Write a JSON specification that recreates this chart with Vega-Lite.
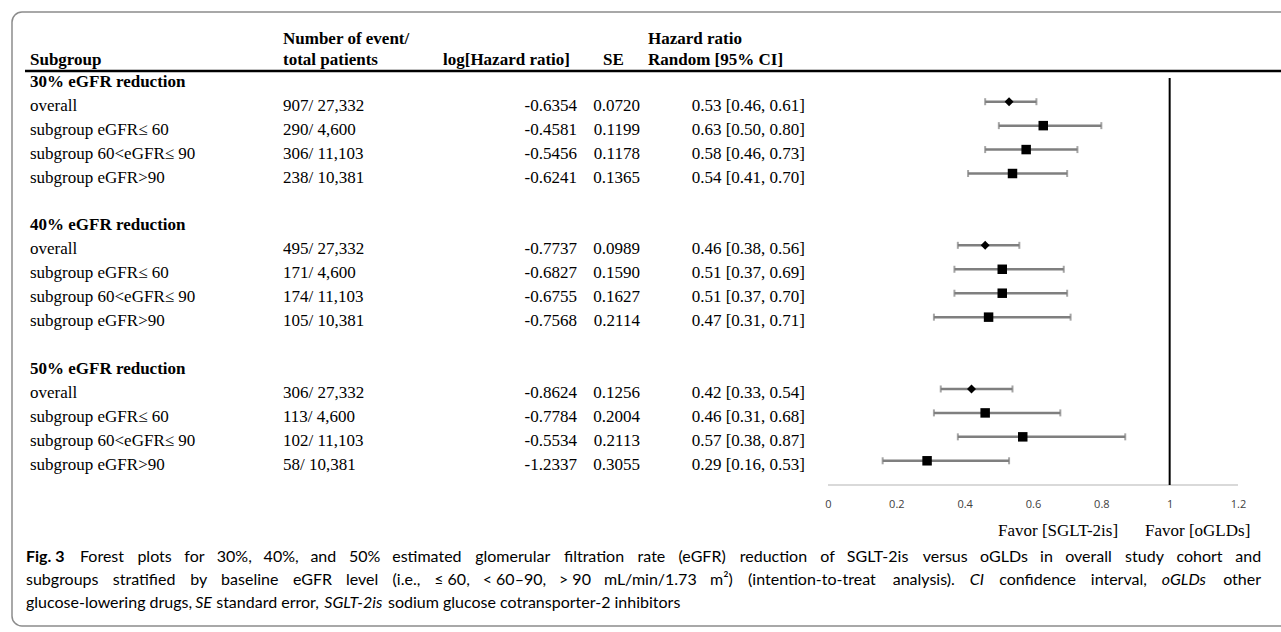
{
  "$schema": "https://vega.github.io/schema/vega-lite/v6.json",
  "autosize": {"type": "none"},
  "width": 1281,
  "height": 632,
  "padding": 0,
  "background": "white",
  "config": {
    "view": {"stroke": null},
    "locale": {"number": {"decimal": ".", "thousands": ",", "grouping": [3], "currency": ["$", ""], "minus": "-"}},
    "text": {"font": "Lato", "fontSize": 16, "color": "black", "baseline": "middle", "align": "left"}
  },
  "datasets": {
    "rows": [
      {"n": 1, "kind": "group", "label": "30% eGFR reduction"},
      {"n": 2, "kind": "overall", "label": "overall", "events": "907/ 27,332", "loghr": -0.6354, "se": 0.0720, "hr": 0.53, "lo": 0.46, "hi": 0.61, "hrci": "0.53 [0.46, 0.61]"},
      {"n": 3, "kind": "subgroup", "label": "subgroup eGFR≤ 60", "events": "290/ 4,600", "loghr": -0.4581, "se": 0.1199, "hr": 0.63, "lo": 0.50, "hi": 0.80, "hrci": "0.63 [0.50, 0.80]"},
      {"n": 4, "kind": "subgroup", "label": "subgroup 60<eGFR≤ 90", "events": "306/ 11,103", "loghr": -0.5456, "se": 0.1178, "hr": 0.58, "lo": 0.46, "hi": 0.73, "hrci": "0.58 [0.46, 0.73]"},
      {"n": 5, "kind": "subgroup", "label": "subgroup eGFR>90", "events": "238/ 10,381", "loghr": -0.6241, "se": 0.1365, "hr": 0.54, "lo": 0.41, "hi": 0.70, "hrci": "0.54 [0.41, 0.70]"},
      {"n": 7, "kind": "group", "label": "40% eGFR reduction"},
      {"n": 8, "kind": "overall", "label": "overall", "events": "495/ 27,332", "loghr": -0.7737, "se": 0.0989, "hr": 0.46, "lo": 0.38, "hi": 0.56, "hrci": "0.46 [0.38, 0.56]"},
      {"n": 9, "kind": "subgroup", "label": "subgroup eGFR≤ 60", "events": "171/ 4,600", "loghr": -0.6827, "se": 0.1590, "hr": 0.51, "lo": 0.37, "hi": 0.69, "hrci": "0.51 [0.37, 0.69]"},
      {"n": 10, "kind": "subgroup", "label": "subgroup 60<eGFR≤ 90", "events": "174/ 11,103", "loghr": -0.6755, "se": 0.1627, "hr": 0.51, "lo": 0.37, "hi": 0.70, "hrci": "0.51 [0.37, 0.70]"},
      {"n": 11, "kind": "subgroup", "label": "subgroup eGFR>90", "events": "105/ 10,381", "loghr": -0.7568, "se": 0.2114, "hr": 0.47, "lo": 0.31, "hi": 0.71, "hrci": "0.47 [0.31, 0.71]"},
      {"n": 13, "kind": "group", "label": "50% eGFR reduction"},
      {"n": 14, "kind": "overall", "label": "overall", "events": "306/ 27,332", "loghr": -0.8624, "se": 0.1256, "hr": 0.42, "lo": 0.33, "hi": 0.54, "hrci": "0.42 [0.33, 0.54]"},
      {"n": 15, "kind": "subgroup", "label": "subgroup eGFR≤ 60", "events": "113/ 4,600", "loghr": -0.7784, "se": 0.2004, "hr": 0.46, "lo": 0.31, "hi": 0.68, "hrci": "0.46 [0.31, 0.68]"},
      {"n": 16, "kind": "subgroup", "label": "subgroup 60<eGFR≤ 90", "events": "102/ 11,103", "loghr": -0.5534, "se": 0.2113, "hr": 0.57, "lo": 0.38, "hi": 0.87, "hrci": "0.57 [0.38, 0.87]"},
      {"n": 17, "kind": "subgroup", "label": "subgroup eGFR>90", "events": "58/ 10,381", "loghr": -1.2337, "se": 0.3055, "hr": 0.29, "lo": 0.16, "hi": 0.53, "hrci": "0.29 [0.16, 0.53]"}
    ]
  },
  "data": {"name": "rows"},
  "layer": [
    {
      "data": {"values": [{}]},
      "mark": {"type": "rect", "fill": "transparent", "stroke": "#8c8c8c", "strokeWidth": 1.5, "cornerRadius": 10},
      "encoding": {
        "x": {
          "datum": -2.38829, "type": "quantitative",
          "scale": {"domain": [-2.42341, 1.32586], "nice": false, "zero": false},
          "axis": {
            "values": [0, 0.2, 0.4, 0.6, 0.8, 1, 1.2],
            "format": "~g",
            "domain": false,
            "ticks": false,
            "grid": false,
            "title": null,
            "titleOpacity": 0,
            "offset": -147,
            "labelPadding": 13,
            "labelFont": "Open Sans",
            "labelFontSize": 11,
            "labelColor": "#404040",
            "labelFlush": false,
            "labelOverlap": false
          }
        },
        "x2": {"datum": 1.36683},
        "y": {"datum": -1.7469, "type": "quantitative", "scale": {"domain": [-2.2482, 24.1522], "nice": false, "zero": false, "reverse": true}, "axis": null},
        "y2": {"datum": 23.9}
      }
    },
    {
      "data": {"values": [{}]},
      "mark": {"type": "rule", "color": "black", "strokeWidth": 2.5},
      "encoding": {"x": {"datum": -2.35024, "type": "quantitative"}, "x2": {"datum": 1.33}, "y": {"datum": 0.7177, "type": "quantitative", "axis": null}}
    },
    {
      "data": {"values": [{}]},
      "mark": {"type": "rule", "color": "#d9d9d9", "strokeWidth": 2},
      "encoding": {"x": {"datum": 0, "type": "quantitative"}, "x2": {"datum": 1.2}, "y": {"datum": 18.0112, "type": "quantitative", "axis": null}}
    },
    {
      "data": {"values": [{}]},
      "mark": {"type": "rule", "color": "black", "strokeWidth": 2},
      "encoding": {"x": {"datum": 1, "type": "quantitative"}, "y": {"datum": 1.0101, "type": "quantitative", "axis": null}, "y2": {"datum": 18.0112}}
    },
    {
      "data": {"values": [{}]},
      "mark": {"type": "text", "text": "Number of event/", "font": "Liberation Serif", "fontSize": 17, "fontWeight": "bold"},
      "encoding": {"x": {"datum": -1.59512, "type": "quantitative"}, "y": {"datum": -0.6191, "type": "quantitative", "axis": null}}
    },
    {
      "data": {"values": [{}]},
      "mark": {"type": "text", "text": "Hazard ratio", "font": "Liberation Serif", "fontSize": 17, "fontWeight": "bold"},
      "encoding": {"x": {"datum": -0.52682, "type": "quantitative"}, "y": {"datum": -0.6191, "type": "quantitative", "axis": null}}
    },
    {
      "data": {"values": [{}]},
      "mark": {"type": "text", "text": "Subgroup", "font": "Liberation Serif", "fontSize": 17, "fontWeight": "bold"},
      "encoding": {"x": {"datum": -2.33561, "type": "quantitative"}, "y": {"datum": 0.2582, "type": "quantitative", "axis": null}}
    },
    {
      "data": {"values": [{}]},
      "mark": {"type": "text", "text": "total patients", "font": "Liberation Serif", "fontSize": 17, "fontWeight": "bold"},
      "encoding": {"x": {"datum": -1.59512, "type": "quantitative"}, "y": {"datum": 0.2582, "type": "quantitative", "axis": null}}
    },
    {
      "data": {"values": [{}]},
      "mark": {"type": "text", "text": "log[Hazard ratio]", "font": "Liberation Serif", "fontSize": 17, "fontWeight": "bold"},
      "encoding": {"x": {"datum": -1.12682, "type": "quantitative"}, "y": {"datum": 0.2582, "type": "quantitative", "axis": null}}
    },
    {
      "data": {"values": [{}]},
      "mark": {"type": "text", "text": "SE", "font": "Liberation Serif", "fontSize": 17, "fontWeight": "bold"},
      "encoding": {"x": {"datum": -0.65853, "type": "quantitative"}, "y": {"datum": 0.2582, "type": "quantitative", "axis": null}}
    },
    {
      "data": {"values": [{}]},
      "mark": {"type": "text", "text": "Random [95% CI]", "font": "Liberation Serif", "fontSize": 17, "fontWeight": "bold"},
      "encoding": {"x": {"datum": -0.52682, "type": "quantitative"}, "y": {"datum": 0.2582, "type": "quantitative", "axis": null}}
    },
    {
      "transform": [{"filter": "datum.kind === 'group'"}],
      "mark": {"type": "text", "font": "Liberation Serif", "fontSize": 17, "fontWeight": "bold", "dy": 4},
      "encoding": {"x": {"datum": -2.33561, "type": "quantitative"}, "y": {"field": "n", "type": "quantitative", "axis": null}, "text": {"field": "label"}}
    },
    {
      "transform": [{"filter": "datum.kind !== 'group'"}],
      "mark": {"type": "text", "font": "Liberation Serif", "fontSize": 17, "dy": 4},
      "encoding": {"x": {"datum": -2.33561, "type": "quantitative"}, "y": {"field": "n", "type": "quantitative", "axis": null}, "text": {"field": "label"}}
    },
    {
      "transform": [{"filter": "datum.kind !== 'group'"}],
      "mark": {"type": "text", "font": "Liberation Serif", "fontSize": 17, "dy": 4},
      "encoding": {"x": {"datum": -1.59512, "type": "quantitative"}, "y": {"field": "n", "type": "quantitative", "axis": null}, "text": {"field": "events"}}
    },
    {
      "transform": [{"filter": "datum.kind !== 'group'"}],
      "mark": {"type": "text", "font": "Liberation Serif", "fontSize": 17, "align": "right", "dy": 4},
      "encoding": {"x": {"datum": -0.73463, "type": "quantitative"}, "y": {"field": "n", "type": "quantitative", "axis": null}, "text": {"field": "loghr", "type": "quantitative", "format": ".4f"}}
    },
    {
      "transform": [{"filter": "datum.kind !== 'group'"}],
      "mark": {"type": "text", "font": "Liberation Serif", "fontSize": 17, "align": "right", "dy": 4},
      "encoding": {"x": {"datum": -0.55024, "type": "quantitative"}, "y": {"field": "n", "type": "quantitative", "axis": null}, "text": {"field": "se", "type": "quantitative", "format": ".4f"}}
    },
    {
      "transform": [{"filter": "datum.kind !== 'group'"}],
      "mark": {"type": "text", "font": "Liberation Serif", "fontSize": 17, "align": "right", "dy": 4},
      "encoding": {"x": {"datum": -0.06731, "type": "quantitative"}, "y": {"field": "n", "type": "quantitative", "axis": null}, "text": {"field": "hrci"}}
    },
    {
      "transform": [{"filter": "datum.kind !== 'group'"}],
      "mark": {"type": "rule", "color": "#7f7f7f", "strokeWidth": 2.5},
      "encoding": {"x": {"field": "lo", "type": "quantitative"}, "x2": {"field": "hi"}, "y": {"field": "n", "type": "quantitative", "axis": null}}
    },
    {
      "transform": [{"filter": "datum.kind !== 'group'"}],
      "mark": {"type": "tick", "orient": "vertical", "size": 7, "thickness": 2, "color": "#7f7f7f"},
      "encoding": {"x": {"field": "lo", "type": "quantitative"}, "y": {"field": "n", "type": "quantitative", "axis": null}}
    },
    {
      "transform": [{"filter": "datum.kind !== 'group'"}],
      "mark": {"type": "tick", "orient": "vertical", "size": 7, "thickness": 2, "color": "#7f7f7f"},
      "encoding": {"x": {"field": "hi", "type": "quantitative"}, "y": {"field": "n", "type": "quantitative", "axis": null}}
    },
    {
      "transform": [{"filter": "datum.kind !== 'group'"}],
      "mark": {"type": "point", "filled": true, "color": "black", "opacity": 1},
      "encoding": {
        "x": {"field": "hr", "type": "quantitative"},
        "y": {"field": "n", "type": "quantitative", "axis": null},
        "shape": {"field": "kind", "type": "nominal", "scale": {"domain": ["overall", "subgroup"], "range": ["diamond", "square"]}, "legend": null},
        "size": {"field": "kind", "type": "ordinal", "scale": {"domain": ["overall", "subgroup"], "range": [80, 90]}, "legend": null}
      }
    },
    {
      "data": {"values": [{}]},
      "mark": {"type": "text", "text": "Favor [SGLT-2is]", "font": "Liberation Serif", "fontSize": 17},
      "encoding": {"x": {"datum": 0.49757, "type": "quantitative"}, "y": {"datum": 19.9328, "type": "quantitative", "axis": null}}
    },
    {
      "data": {"values": [{}]},
      "mark": {"type": "text", "text": "Favor [oGLDs]", "font": "Liberation Serif", "fontSize": 17},
      "encoding": {"x": {"datum": 0.92781, "type": "quantitative"}, "y": {"datum": 19.9328, "type": "quantitative", "axis": null}}
    },
    {"data": {"values": [{}]}, "mark": {"type": "text", "text": "Fig. 3", "fontWeight": "bold"}, "encoding": {"x": {"datum": -2.34731, "type": "quantitative"}, "y": {"datum": 21.019, "type": "quantitative", "axis": null}}},
    {"data": {"values": [{}]}, "mark": {"type": "text", "text": "Forest"}, "encoding": {"x": {"datum": -2.18926, "type": "quantitative"}, "y": {"datum": 21.019, "type": "quantitative", "axis": null}}},
    {"data": {"values": [{}]}, "mark": {"type": "text", "text": "plots"}, "encoding": {"x": {"datum": -2.02127, "type": "quantitative"}, "y": {"datum": 21.019, "type": "quantitative", "axis": null}}},
    {"data": {"values": [{}]}, "mark": {"type": "text", "text": "for"}, "encoding": {"x": {"datum": -1.88400, "type": "quantitative"}, "y": {"datum": 21.019, "type": "quantitative", "axis": null}}},
    {"data": {"values": [{}]}, "mark": {"type": "text", "text": "30%,"}, "encoding": {"x": {"datum": -1.78888, "type": "quantitative"}, "y": {"datum": 21.019, "type": "quantitative", "axis": null}}},
    {"data": {"values": [{}]}, "mark": {"type": "text", "text": "40%,"}, "encoding": {"x": {"datum": -1.65191, "type": "quantitative"}, "y": {"datum": 21.019, "type": "quantitative", "axis": null}}},
    {"data": {"values": [{}]}, "mark": {"type": "text", "text": "and"}, "encoding": {"x": {"datum": -1.51493, "type": "quantitative"}, "y": {"datum": 21.019, "type": "quantitative", "axis": null}}},
    {"data": {"values": [{}]}, "mark": {"type": "text", "text": "50%"}, "encoding": {"x": {"datum": -1.40196, "type": "quantitative"}, "y": {"datum": 21.019, "type": "quantitative", "axis": null}}},
    {"data": {"values": [{}]}, "mark": {"type": "text", "text": "estimated"}, "encoding": {"x": {"datum": -1.27552, "type": "quantitative"}, "y": {"datum": 21.019, "type": "quantitative", "axis": null}}},
    {"data": {"values": [{}]}, "mark": {"type": "text", "text": "glomerular"}, "encoding": {"x": {"datum": -1.03259, "type": "quantitative"}, "y": {"datum": 21.019, "type": "quantitative", "axis": null}}},
    {"data": {"values": [{}]}, "mark": {"type": "text", "text": "filtration"}, "encoding": {"x": {"datum": -0.77269, "type": "quantitative"}, "y": {"datum": 21.019, "type": "quantitative", "axis": null}}},
    {"data": {"values": [{}]}, "mark": {"type": "text", "text": "rate"}, "encoding": {"x": {"datum": -0.55728, "type": "quantitative"}, "y": {"datum": 21.019, "type": "quantitative", "axis": null}}},
    {"data": {"values": [{}]}, "mark": {"type": "text", "text": "(eGFR)"}, "encoding": {"x": {"datum": -0.43757, "type": "quantitative"}, "y": {"datum": 21.019, "type": "quantitative", "axis": null}}},
    {"data": {"values": [{}]}, "mark": {"type": "text", "text": "reduction"}, "encoding": {"x": {"datum": -0.25816, "type": "quantitative"}, "y": {"datum": 21.019, "type": "quantitative", "axis": null}}},
    {"data": {"values": [{}]}, "mark": {"type": "text", "text": "of"}, "encoding": {"x": {"datum": -0.02255, "type": "quantitative"}, "y": {"datum": 21.019, "type": "quantitative", "axis": null}}},
    {"data": {"values": [{}]}, "mark": {"type": "text", "text": "SGLT-2is"}, "encoding": {"x": {"datum": 0.05501, "type": "quantitative"}, "y": {"datum": 21.019, "type": "quantitative", "axis": null}}},
    {"data": {"values": [{}]}, "mark": {"type": "text", "text": "versus"}, "encoding": {"x": {"datum": 0.27715, "type": "quantitative"}, "y": {"datum": 21.019, "type": "quantitative", "axis": null}}},
    {"data": {"values": [{}]}, "mark": {"type": "text", "text": "oGLDs"}, "encoding": {"x": {"datum": 0.44515, "type": "quantitative"}, "y": {"datum": 21.019, "type": "quantitative", "axis": null}}},
    {"data": {"values": [{}]}, "mark": {"type": "text", "text": "in"}, "encoding": {"x": {"datum": 0.62076, "type": "quantitative"}, "y": {"datum": 21.019, "type": "quantitative", "axis": null}}},
    {"data": {"values": [{}]}, "mark": {"type": "text", "text": "overall"}, "encoding": {"x": {"datum": 0.69422, "type": "quantitative"}, "y": {"datum": 21.019, "type": "quantitative", "axis": null}}},
    {"data": {"values": [{}]}, "mark": {"type": "text", "text": "study"}, "encoding": {"x": {"datum": 0.86954, "type": "quantitative"}, "y": {"datum": 21.019, "type": "quantitative", "axis": null}}},
    {"data": {"values": [{}]}, "mark": {"type": "text", "text": "cohort"}, "encoding": {"x": {"datum": 1.01968, "type": "quantitative"}, "y": {"datum": 21.019, "type": "quantitative", "axis": null}}},
    {"data": {"values": [{}]}, "mark": {"type": "text", "text": "and"}, "encoding": {"x": {"datum": 1.19207, "type": "quantitative"}, "y": {"datum": 21.019, "type": "quantitative", "axis": null}}},
    {"data": {"values": [{}]}, "mark": {"type": "text", "text": "subgroups"}, "encoding": {"x": {"datum": -2.34731, "type": "quantitative"}, "y": {"datum": 21.98, "type": "quantitative", "axis": null}}},
    {"data": {"values": [{}]}, "mark": {"type": "text", "text": "stratified"}, "encoding": {"x": {"datum": -2.09327, "type": "quantitative"}, "y": {"datum": 21.98, "type": "quantitative", "axis": null}}},
    {"data": {"values": [{}]}, "mark": {"type": "text", "text": "by"}, "encoding": {"x": {"datum": -1.86644, "type": "quantitative"}, "y": {"datum": 21.98, "type": "quantitative", "axis": null}}},
    {"data": {"values": [{}]}, "mark": {"type": "text", "text": "baseline"}, "encoding": {"x": {"datum": -1.77629, "type": "quantitative"}, "y": {"datum": 21.98, "type": "quantitative", "axis": null}}},
    {"data": {"values": [{}]}, "mark": {"type": "text", "text": "eGFR"}, "encoding": {"x": {"datum": -1.56615, "type": "quantitative"}, "y": {"datum": 21.98, "type": "quantitative", "axis": null}}},
    {"data": {"values": [{}]}, "mark": {"type": "text", "text": "level"}, "encoding": {"x": {"datum": -1.41073, "type": "quantitative"}, "y": {"datum": 21.98, "type": "quantitative", "axis": null}}},
    {"data": {"values": [{}]}, "mark": {"type": "text", "text": "(i.e.,"}, "encoding": {"x": {"datum": -1.27434, "type": "quantitative"}, "y": {"datum": 21.98, "type": "quantitative", "axis": null}}},
    {"data": {"values": [{}]}, "mark": {"type": "text", "text": "≤ 60,"}, "encoding": {"x": {"datum": -1.15259, "type": "quantitative"}, "y": {"datum": 21.98, "type": "quantitative", "axis": null}}},
    {"data": {"values": [{}]}, "mark": {"type": "text", "text": "< 60–90,"}, "encoding": {"x": {"datum": -1.01064, "type": "quantitative"}, "y": {"datum": 21.98, "type": "quantitative", "axis": null}}},
    {"data": {"values": [{}]}, "mark": {"type": "text", "text": "> 90"}, "encoding": {"x": {"datum": -0.78732, "type": "quantitative"}, "y": {"datum": 21.98, "type": "quantitative", "axis": null}}},
    {"data": {"values": [{}]}, "mark": {"type": "text", "text": "mL/min/1.73"}, "encoding": {"x": {"datum": -0.65591, "type": "quantitative"}, "y": {"datum": 21.98, "type": "quantitative", "axis": null}}},
    {"data": {"values": [{}]}, "mark": {"type": "text", "text": "m²)"}, "encoding": {"x": {"datum": -0.34536, "type": "quantitative"}, "y": {"datum": 21.98, "type": "quantitative", "axis": null}}},
    {"data": {"values": [{}]}, "mark": {"type": "text", "text": "(intention-to-treat"}, "encoding": {"x": {"datum": -0.23385, "type": "quantitative"}, "y": {"datum": 21.98, "type": "quantitative", "axis": null}}},
    {"data": {"values": [{}]}, "mark": {"type": "text", "text": "analysis)."}, "encoding": {"x": {"datum": 0.18937, "type": "quantitative"}, "y": {"datum": 21.98, "type": "quantitative", "axis": null}}},
    {"data": {"values": [{}]}, "mark": {"type": "text", "text": "CI", "fontStyle": "italic"}, "encoding": {"x": {"datum": 0.41473, "type": "quantitative"}, "y": {"datum": 21.98, "type": "quantitative", "axis": null}}},
    {"data": {"values": [{}]}, "mark": {"type": "text", "text": "confidence"}, "encoding": {"x": {"datum": 0.50107, "type": "quantitative"}, "y": {"datum": 21.98, "type": "quantitative", "axis": null}}},
    {"data": {"values": [{}]}, "mark": {"type": "text", "text": "interval,"}, "encoding": {"x": {"datum": 0.76917, "type": "quantitative"}, "y": {"datum": 21.98, "type": "quantitative", "axis": null}}},
    {"data": {"values": [{}]}, "mark": {"type": "text", "text": "oGLDs", "fontStyle": "italic"}, "encoding": {"x": {"datum": 0.97668, "type": "quantitative"}, "y": {"datum": 21.98, "type": "quantitative", "axis": null}}},
    {"data": {"values": [{}]}, "mark": {"type": "text", "text": "other"}, "encoding": {"x": {"datum": 1.15668, "type": "quantitative"}, "y": {"datum": 21.98, "type": "quantitative", "axis": null}}},
    {"data": {"values": [{}]}, "mark": {"type": "text", "text": "glucose-lowering drugs,"}, "encoding": {"x": {"datum": -2.34731, "type": "quantitative"}, "y": {"datum": 22.941, "type": "quantitative", "axis": null}}},
    {"data": {"values": [{}]}, "mark": {"type": "text", "text": "SE", "fontStyle": "italic"}, "encoding": {"x": {"datum": -1.85210, "type": "quantitative"}, "y": {"datum": 22.941, "type": "quantitative", "axis": null}}},
    {"data": {"values": [{}]}, "mark": {"type": "text", "text": "standard error,"}, "encoding": {"x": {"datum": -1.79063, "type": "quantitative"}, "y": {"datum": 22.941, "type": "quantitative", "axis": null}}},
    {"data": {"values": [{}]}, "mark": {"type": "text", "text": "SGLT-2is", "fontStyle": "italic"}, "encoding": {"x": {"datum": -1.47425, "type": "quantitative"}, "y": {"datum": 22.941, "type": "quantitative", "axis": null}}},
    {"data": {"values": [{}]}, "mark": {"type": "text", "text": "sodium glucose cotransporter-2 inhibitors"}, "encoding": {"x": {"datum": -1.28780, "type": "quantitative"}, "y": {"datum": 22.941, "type": "quantitative", "axis": null}}}
  ]
}
